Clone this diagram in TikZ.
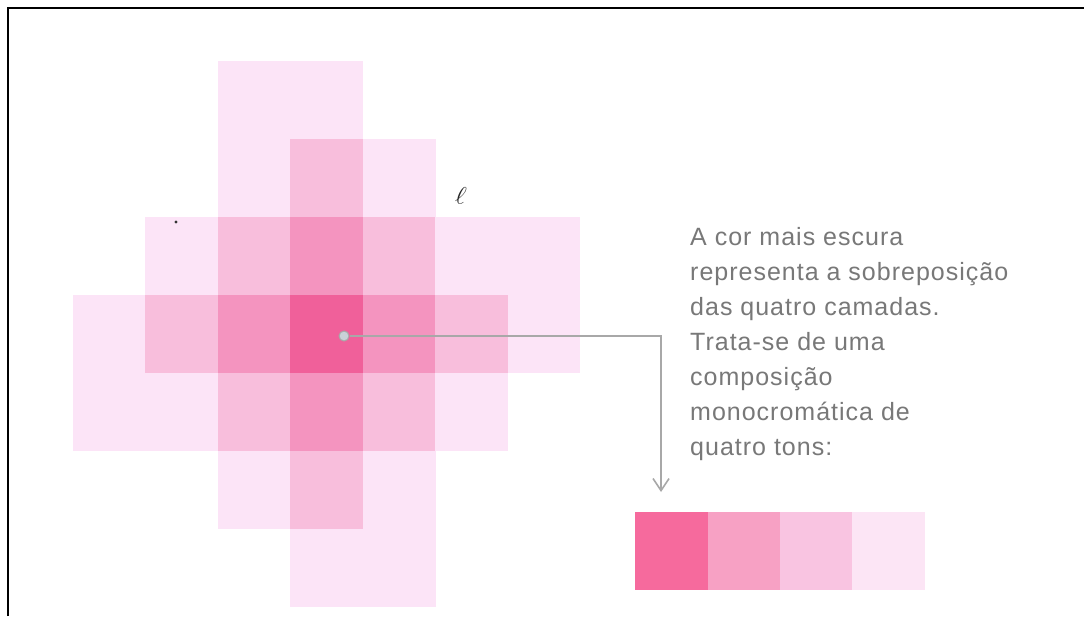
\documentclass[tikz,border=0pt]{standalone}
\usepackage{fontspec}
\setmainfont{Liberation Sans}
\newfontfamily\captionfont[LetterSpace=4]{Liberation Sans}
\usetikzlibrary{arrows.meta}
\definecolor{tone1}{HTML}{FCE4F7}
\definecolor{tone2}{HTML}{F8BEDC}
\definecolor{tone3}{HTML}{F494BF}
\definecolor{tone4}{HTML}{F0609A}
\definecolor{strip1}{HTML}{F66A9D}
\definecolor{strip2}{HTML}{F7A1C4}
\definecolor{strip3}{HTML}{F9C4E1}
\definecolor{strip4}{HTML}{FCE5F5}
\definecolor{textgray}{HTML}{787878}
\definecolor{linegray}{HTML}{A8A8A8}
\definecolor{dotfill}{HTML}{C9D1D8}
\tikzset{
  swatch/.style={rectangle, inner sep=0pt, minimum width=72.4pt, minimum height=78pt, anchor=north west},
  leader/.style={draw=linegray, line width=2pt, -{Straight Barb[length=12pt,width=16pt,line width=1.6pt]}},
  caption/.style={anchor=north west, inner sep=0pt, text=textgray, align=left, font=\captionfont\fontsize{25}{35}\selectfont}
}
\begin{document}
\begin{tikzpicture}[x=1pt,y=-1pt]
\useasboundingbox (0,0) rectangle (1084,616);
\fill[white] (0,0) rectangle (1084,616);
% overlapping layers, one cell at a time
\foreach \c in {0,...,6}{
  \foreach \r in {0,...,6}{
    \pgfmathtruncatemacro\n{and(\c>=2,\c<=3)*(\r<=5)+and(\c>=3,\c<=4)*(\r>=1)+(\c>=1)*and(\r>=2,\r<=3)+(\c<=5)*and(\r>=3,\r<=4)}
    \ifnum\n>0
      \fill[tone\n] ({73+72.43*\c},{61+78*\r}) rectangle ({73.4+72.43*(\c+1)},{61.4+78*(\r+1)});
    \fi
  }
}
% frame (top and left)
\draw[line width=2pt] (8.3,616) -- (8.3,8.3) -- (1084,8.3);
% marks
\node[font=\fontsize{24}{24}\selectfont, rotate=-8, inner sep=0pt, text=black!85] (mark) at (461,196) {$\ell$};
\fill[black!80] (176,222) circle (1.6pt);
% leader
\node[circle, fill=dotfill, draw=linegray, line width=1pt, minimum size=10pt, inner sep=0pt] (dot) at (344,336) {};
\coordinate (tip) at (661,492);
\draw[leader] (dot.east) -| (tip);
% caption
\node[caption] (txt) at (690,227) {A cor mais escura\\representa a sobreposição\\das quatro camadas.\\Trata-se de uma\\composição\\monocromática de\\quatro tons:};
% swatches
\node[swatch, fill=strip1] (s1) at (635,512) {};
\node[swatch, fill=strip2] (s2) at (707.4,512) {};
\node[swatch, fill=strip3] (s3) at (779.8,512) {};
\node[swatch, fill=strip4] (s4) at (852.2,512) {};
\end{tikzpicture}
\end{document}
